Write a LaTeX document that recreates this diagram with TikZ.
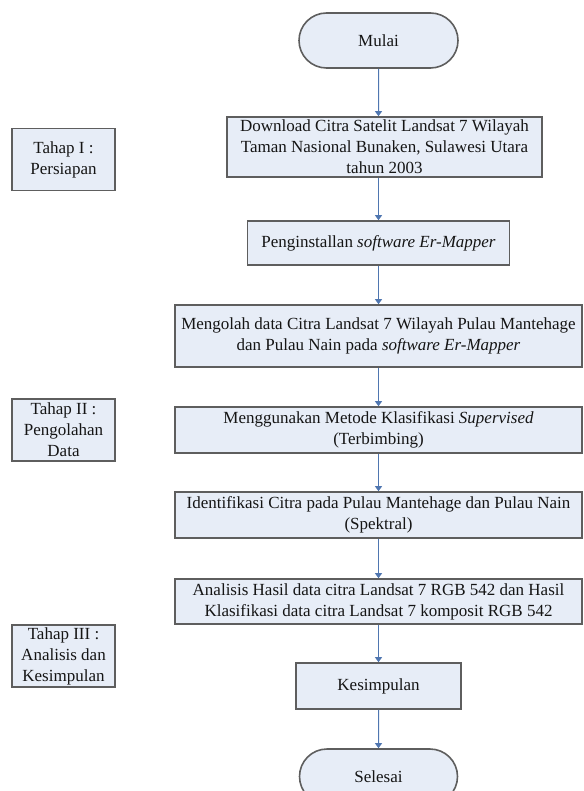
\documentclass[tikz,border=0pt]{standalone}
\usepackage{fontspec}
\setmainfont{Liberation Serif}
\usetikzlibrary{shapes.misc,arrows.meta}
\definecolor{boxfill}{HTML}{E7EDF7}
\definecolor{boxline}{HTML}{5E5E5E}
\definecolor{arrowblue}{HTML}{4F76B0}
\definecolor{teks}{HTML}{151515}
\begin{document}
\begin{tikzpicture}[x=0.5pt,y=-0.5pt,
    proses/.style={draw=boxline,fill=boxfill,line width=0.8pt,align=center,
      inner sep=1pt,text=teks,font=\fontsize{8.5}{10.5}\selectfont},
    terminal/.style={proses,rounded rectangle},
    tahap/.style={proses,minimum width=51.5pt,minimum height=31pt},
    panah/.style={draw=arrowblue,line width=0.5pt,-{Triangle[length=2.5pt,width=3.5pt]}}]
  \useasboundingbox (0,0) rectangle (583,791);
  % alur utama
  \node[terminal,minimum width=81.5pt,minimum height=27.5pt] (mulai) at (378.5,40.5) {Mulai};
  \node[proses,minimum width=157.5pt,minimum height=30pt] (unduh) at (384.5,147)
    {Download Citra Satelit Landsat 7 Wilayah\\Taman Nasional Bunaken, Sulawesi Utara\\tahun 2003};
  \node[proses,minimum width=131pt,minimum height=22pt] (instal) at (378.5,243)
    {Penginstallan \textit{software Er-Mapper}};
  \node[proses,minimum width=203.5pt,minimum height=31pt] (olah) at (378.5,336)
    {Mengolah data Citra Landsat 7 Wilayah Pulau Mantehage\\dan Pulau Nain pada \textit{software Er-Mapper}};
  \node[proses,minimum width=203.5pt,minimum height=23pt] (metode) at (378.5,430)
    {Menggunakan Metode Klasifikasi \textit{Supervised}\\(Terbimbing)};
  \node[proses,minimum width=203.5pt,minimum height=23pt] (identifikasi) at (378.5,515)
    {Identifikasi Citra pada Pulau Mantehage dan Pulau Nain\\(Spektral)};
  \node[proses,minimum width=203.5pt,minimum height=22.5pt] (analisis) at (378.5,601.5)
    {Analisis Hasil data citra Landsat 7 RGB 542 dan Hasil\\Klasifikasi data citra Landsat 7 komposit RGB 542};
  \node[proses,minimum width=82.5pt,minimum height=23pt] (simpulan) at (378.5,686) {Kesimpulan};
  \node[terminal,minimum width=81pt,minimum height=27.5pt] (selesai) at (378.5,776.5) {Selesai};
  % tahap
  \node[tahap] (tahap1) at (63.5,159.5) {Tahap I :\\Persiapan};
  \node[tahap] (tahap2) at (63.5,430) {Tahap II :\\Pengolahan\\Data};
  \node[tahap] (tahap3) at (63.5,656) {Tahap III :\\Analisis dan\\Kesimpulan};
  \begin{scope}[panah]
    \draw (mulai) -- (mulai |- unduh.north);
    \draw (unduh.south -| instal) -- (instal);
    \draw (instal) -- (olah);
    \draw (olah) -- (metode);
    \draw (metode) -- (identifikasi);
    \draw (identifikasi) -- (analisis);
    \draw (analisis) -- (simpulan);
    \draw (simpulan) -- (selesai);
  \end{scope}
\end{tikzpicture}
\end{document}
